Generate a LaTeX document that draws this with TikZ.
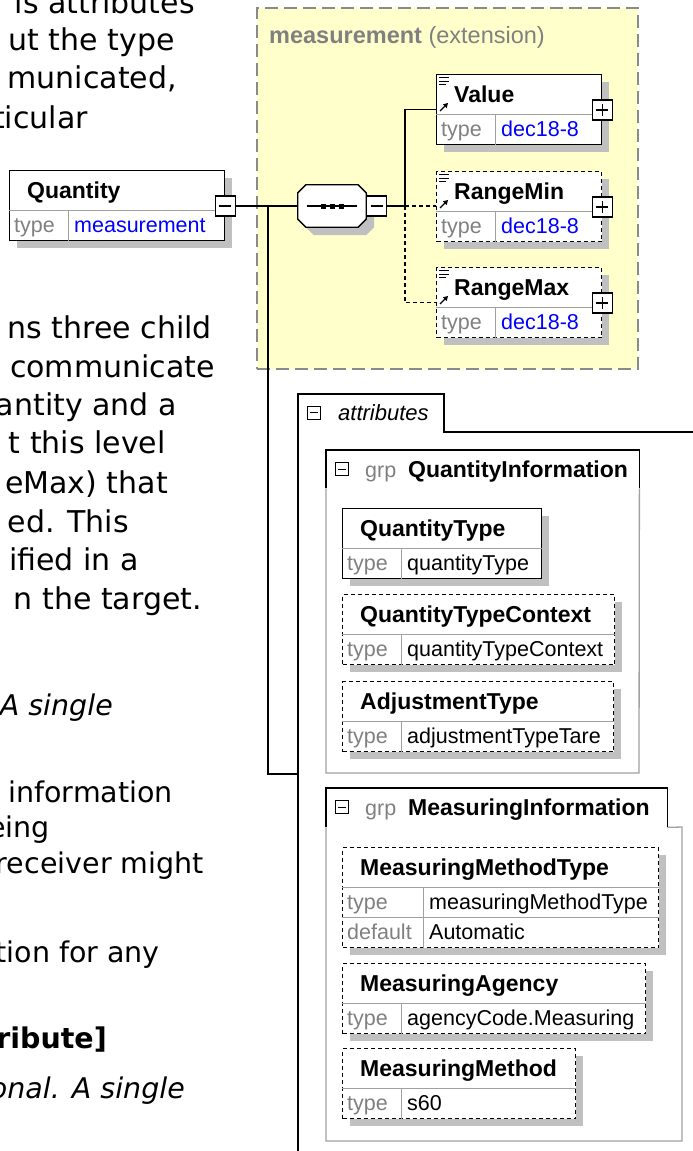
\documentclass[tikz,border=0pt]{standalone}
\usepackage{fontspec}
\newfontfamily\diagfont{Liberation Sans}
\newfontfamily\prosefont{DejaVu Sans}
\usetikzlibrary{arrows.meta, backgrounds, positioning}
\definecolor{colext}{HTML}{FFFFCC}
\definecolor{colextline}{HTML}{8A8A8A}
\definecolor{colshadow}{HTML}{C0C0C0}
\definecolor{colcell}{HTML}{A0A0A0}
\definecolor{colgroup}{HTML}{A0A0A0}
\definecolor{colkey}{HTML}{808080}
\definecolor{coltype}{HTML}{0000FF}
\tikzset{
    prose/.style={font=\prosefont\fontsize{30}{37}\selectfont,
        inner sep=0pt, anchor=base east},
    prose low/.style={prose, font=\prosefont\fontsize{28.5}{36}\selectfont},
    ext panel/.style={rectangle, draw=colextline, fill=colext,
        line width=1.5pt, dash pattern=on 13pt off 6pt,
        inner sep=0pt, anchor=north west},
    diag text/.style={inner sep=0pt, anchor=base west},
    ext title/.style={diag text, text=colkey,
        font=\diagfont\fontsize{23.5}{27}\selectfont},
    elem name/.style={diag text, font=\diagfont\bfseries\fontsize{23}{27}\selectfont},
    type key/.style={diag text, text=colkey, font=\diagfont\fontsize{21.5}{25}\selectfont},
    type val/.style={diag text, font=\diagfont\fontsize{21.5}{25}\selectfont},
    attr label/.style={diag text, font=\diagfont\itshape\fontsize{22}{25}\selectfont},
    elem box/.style={rectangle, draw=black, line width=1.3pt, fill=white,
        inner sep=0pt, anchor=north west},
    optional/.style={dash pattern=on 4pt off 3pt},
    elem shadow/.style={fill=colshadow},
    cell line/.style={draw=colcell, line width=1pt},
    icon box/.style={rectangle, draw=black, line width=1.2pt, fill=white,
        minimum size=20pt, inner sep=0pt},
    collapse icon/.style={icon box, path picture={
        \draw[line width=1.2pt] ([xshift=4pt]path picture bounding box.west)
            -- ([xshift=-4pt]path picture bounding box.east);}},
    expand icon/.style={icon box, path picture={
        \draw[line width=1.2pt] ([xshift=4pt]path picture bounding box.west)
            -- ([xshift=-4pt]path picture bounding box.east);
        \draw[line width=1.2pt] ([yshift=-4pt]path picture bounding box.north)
            -- ([yshift=4pt]path picture bounding box.south);}},
    small collapse/.style={icon box, minimum size=13pt, line width=1pt, path picture={
        \draw[line width=1pt] ([xshift=2.5pt]path picture bounding box.west)
            -- ([xshift=-2.5pt]path picture bounding box.east);}},
    seq frame/.style={rectangle, inner sep=0pt, minimum width=68pt, minimum height=42pt},
    seq line/.style={draw=black, fill=white, line width=1.3pt},
    icon line/.style={draw=black, line width=1pt},
    ref arrow/.style={draw=black, line width=1.3pt,
        -{Triangle[length=4.5pt, width=5pt]}},
    conn/.style={draw=black, line width=1.3pt},
    panel line/.style={draw=black, line width=1.3pt},
    grp line/.style={draw=colgroup, line width=1.3pt},
    grp head/.style={draw=black, line width=1.3pt},
}

% element box: name, border, left, top, width, type column, label, type, height
\newcommand{\elembox}[9]{%
    \fill[elem shadow] (#3+8,#4+8) rectangle (#3+#5+8,#4+#9+8);
    \node[elem box, #2, minimum width=#5, minimum height=#9] (#1) at (#3,#4) {};
    \draw[cell line] ([yshift=-40]#1.north west) -- ([yshift=-40]#1.north east);
    \draw[cell line] ([xshift=#6,yshift=-40]#1.north west) -- ([xshift=#6]#1.south west);
    \node[elem name] (#1-name) at ([xshift=18,yshift=-28]#1.north west) {#7};
    \node[type key] (#1-key) at ([xshift=5,yshift=-62]#1.north west) {type};
    \node[type val] (#1-type) at ([xshift=#6+6,yshift=-62]#1.north west) {#8};
}
% simple content + reference marks in the name row
\newcommand{\refmarks}[1]{%
    \draw[icon line] ([xshift=3,yshift=-3.5]#1.north west) -- ++(10,0)
                     ([xshift=3,yshift=-7]#1.north west) -- ++(10,0)
                     ([xshift=3,yshift=-10.5]#1.north west) -- ++(7,0);
    \draw[ref arrow] ([xshift=4,yshift=-37]#1.north west) -- ++(8,-8);
}
% octagon of a sequence compositor, #2 = offset (for the shadow)
\newcommand{\seqoutline}[2]{%
    ([xshift=#2+8,yshift=-#2]#1.north west) -- ([xshift=#2-8,yshift=-#2]#1.north east)
    -- ([xshift=#2,yshift=-#2-8]#1.north east) -- ([xshift=#2,yshift=-#2+8]#1.south east)
    -- ([xshift=#2-8,yshift=-#2]#1.south east) -- ([xshift=#2+8,yshift=-#2]#1.south west)
    -- ([xshift=#2,yshift=-#2+8]#1.south west) -- ([xshift=#2,yshift=-#2-8]#1.north west)
    -- cycle}

\begin{document}
\begin{tikzpicture}[x=1pt, y=-1pt]

\useasboundingbox (0,0) rectangle (693,1151);

% ===== PAGE TEXT (cut at the left) =====
\node[prose] (prose1) at (195,13) {is attributes};
\node[prose] (prose2) at (175,50) {ut the type};
\node[prose] (prose3) at (177,88) {municated,};
\node[prose] (prose4) at (88,128) {ticular};
\node[prose] (prose5) at (212,338) {ns three child};
\node[prose] (prose6) at (215,377) {communicate};
\node[prose] (prose7) at (177,415) {antity and a};
\node[prose] (prose8) at (166,453) {t this level};
\node[prose] (prose9) at (168,493) {eMax) that};
\node[prose] (prose10) at (129,532) {ed. This};
\node[prose] (prose11) at (139,570) {ified in a};
\node[prose] (prose12) at (202,609) {n the target.};
\node[prose low, font=\prosefont\itshape\fontsize{28.5}{36}\selectfont] (prose13) at (113,715) {A single};
\node[prose low] (prose14) at (173,802) {information};
\node[prose low] (prose15) at (50,837) {eing};
\node[prose low] (prose16) at (204,873) {receiver might};
\node[prose low] (prose17) at (160,962) {tion for any};
\node[prose low, font=\prosefont\bfseries\fontsize{28.5}{36}\selectfont] (prose18) at (107,1048) {ribute]};
\node[prose low, font=\prosefont\itshape\fontsize{28.5}{36}\selectfont] (prose19) at (185,1098) {onal. A single};

% ===== EXTENSION PANEL =====
\node[ext panel, minimum width=381, minimum height=361] (ext) at (256,7) {};
\node[ext title] (extTitle) at (269,43) {\bfseries measurement\mdseries\ (extension)};

% ===== ELEMENTS =====
\elembox{Quantity}{}{9}{170}{215}{59}{Quantity}{\color{coltype}measurement}{70}
\node[collapse icon] (QuantityIcon) at ([yshift=-36]Quantity.north east) {};

\node[seq frame] (seq) at (332,206) {};
\fill[elem shadow] \seqoutline{seq}{8};
\filldraw[seq line] \seqoutline{seq}{0};
\draw[line width=1.3pt] ([xshift=9]seq.west) -- ([xshift=-9]seq.east);
\foreach \dx in {-9,0,9}
    \fill ([xshift=\dx-2.5,yshift=-2.5]seq.center) rectangle ++(5,-5);
\node[collapse icon, anchor=west] (seqIcon) at (seq.east) {};

\elembox{Value}{}{436}{74}{165}{59}{Value}{\color{coltype}dec18-8}{70}
\refmarks{Value}
\node[expand icon] (ValueIcon) at ([yshift=-36]Value.north east) {};

\elembox{RangeMin}{optional}{436}{171}{165}{59}{RangeMin}{\color{coltype}dec18-8}{70}
\refmarks{RangeMin}
\node[expand icon] (RangeMinIcon) at ([yshift=-36]RangeMin.north east) {};

\elembox{RangeMax}{optional}{436}{267}{165}{59}{RangeMax}{\color{coltype}dec18-8}{70}
\refmarks{RangeMax}
\node[expand icon] (RangeMaxIcon) at ([yshift=-36]RangeMax.north east) {};

% ===== ATTRIBUTES PANEL =====
\draw[panel line] (298,1160) -- (298,394) -- (444,394) -- (444,432) -- (700,432);
\node[small collapse] (attrIcon) at (313.5,412.5) {};
\node[attr label] (attrLabel) at (338,420) {attributes};
\coordinate (attrIn) at (298,774);

% group QuantityInformation
\node[rectangle, inner sep=0pt, minimum width=313, minimum height=38, anchor=north west] (QtyInfo) at (326,450) {};
\draw[grp line] (QtyInfo.south east) -- (639,773) -- (326,773) -- (QtyInfo.south west);
\draw[grp head] (QtyInfo.south west) -- (QtyInfo.north west) -- (QtyInfo.north east) -- (QtyInfo.south east);
\node[small collapse] (QtyInfoIcon) at ([xshift=16,yshift=-19]QtyInfo.north west) {};
\node[type key] (QtyInfoGrp) at ([xshift=39,yshift=-27]QtyInfo.north west) {grp};
\node[elem name] (QtyInfoName) at ([xshift=82,yshift=-27]QtyInfo.north west) {QuantityInformation};

\elembox{QuantityType}{}{342}{508}{199}{59}{QuantityType}{quantityType}{70}
\elembox{QuantityTypeContext}{optional}{342}{594}{272}{59}{QuantityTypeContext}{quantityTypeContext}{70}
\elembox{AdjustmentType}{optional}{342}{681}{271}{59}{AdjustmentType}{adjustmentTypeTare}{70}

% group MeasuringInformation
\node[rectangle, inner sep=0pt, minimum width=341, minimum height=39, anchor=north west] (MeasInfo) at (326,788) {};
\draw[grp line] (MeasInfo.south east) -- (682,827) -- (682,1141) -- (326,1141) -- (MeasInfo.south west);
\draw[grp head] (MeasInfo.south west) -- (MeasInfo.north west) -- (MeasInfo.north east) -- (MeasInfo.south east);
\node[small collapse] (MeasInfoIcon) at ([xshift=16,yshift=-19]MeasInfo.north west) {};
\node[type key] (MeasInfoGrp) at ([xshift=39,yshift=-27]MeasInfo.north west) {grp};
\node[elem name] (MeasInfoName) at ([xshift=82,yshift=-27]MeasInfo.north west) {MeasuringInformation};

\elembox{MeasuringMethodType}{optional}{342}{847}{316}{81}{MeasuringMethodType}{measuringMethodType}{100}
\draw[cell line] ([yshift=-70]MeasuringMethodType.north west) -- ([yshift=-70]MeasuringMethodType.north east);
\node[type key] (MeasuringMethodType-dkey) at ([xshift=5,yshift=-92]MeasuringMethodType.north west) {default};
\node[type val] (MeasuringMethodType-default) at ([xshift=87,yshift=-92]MeasuringMethodType.north west) {Automatic};
\elembox{MeasuringAgency}{optional}{342}{963}{303}{59}{MeasuringAgency}{agencyCode.Measuring}{70}
\elembox{MeasuringMethod}{optional}{342}{1048}{233}{59}{MeasuringMethod}{s60}{70}

% ===== CONNECTORS =====
\coordinate (qJ) at (268,206);
\coordinate (seqJ) at (405,206);
\draw[conn] (QuantityIcon.east) -- (seq.west);
\draw[conn] (qJ) |- (attrIn);
\draw[conn] (seqIcon.east) -- (seqJ);
\draw[conn] (seqJ) |- (Value.west);
\draw[conn, optional] (seqJ) -- (seqJ -| RangeMin.west);
\draw[conn, optional] (seqJ) |- (RangeMax.west);

\end{tikzpicture}
\end{document}
